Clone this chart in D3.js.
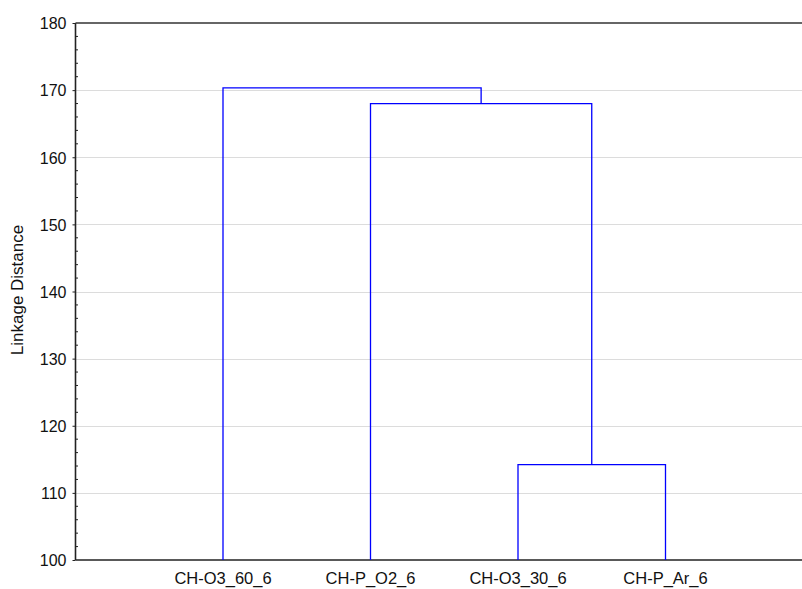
<!DOCTYPE html>
<html><head><meta charset="utf-8">
<script src="https://cdn.jsdelivr.net/npm/d3@7"></script>
<style>body{margin:0;background:#fff;overflow:hidden}svg{display:block}</style>
</head><body>
<script>
// Data
const leaves = ["CH-O3_60_6", "CH-P_O2_6", "CH-O3_30_6", "CH-P_Ar_6"];
// merges: indices refer to leaves (0..3) or previous merges (4..)
const mergeA = [2, 1, 0];
const mergeB = [3, 4, 5];
const mergeHeight = [114.2, 168.0, 170.35];
const yTicks = [100, 110, 120, 130, 140, 150, 160, 170, 180];
const yLabel = "Linkage Distance";

const W = 802, H = 589;
const svg = d3.select("body").append("svg").attr("width", W).attr("height", H);

const x = d3.scaleLinear().domain([0, leaves.length + 1]).range([75.5, 813]);
const y = d3.scaleLinear().domain([100, 180]).range([560, 23]);
const font = "Arial, 'Liberation Sans', sans-serif";

// gridlines
svg.append("g").selectAll("line").data(yTicks.filter(d => d > 100 && d < 180)).join("line")
  .attr("x1", x(0)).attr("x2", W).attr("y1", d => Math.round(y(d)) + 0.5).attr("y2", d => Math.round(y(d)) + 0.5)
  .attr("stroke", "#dcdcdc").attr("stroke-width", 1);

// left axis
const yAxis = d3.axisLeft(y).tickValues(yTicks).tickSize(3).tickPadding(6).tickFormat(d3.format("d"));
const gy = svg.append("g").attr("transform", `translate(${x(0)},0)`).call(yAxis);
gy.select(".domain").remove();
gy.selectAll(".tick line").attr("stroke", "#222");
gy.selectAll(".tick text").attr("font-family", font).attr("font-size", 16).attr("fill", "#111").attr("dy", "0.36em");
// minor ticks
const minor = d3.range(102, 180, 2).filter(d => d % 10 !== 0);
svg.append("g").selectAll("line").data(minor).join("line")
  .attr("x1", x(0)).attr("x2", x(0) + 2.5).attr("y1", d => y(d)).attr("y2", d => y(d))
  .attr("stroke", "#222").attr("stroke-width", 1);

// frame lines
svg.append("line").attr("x1", x(0)).attr("x2", x(0)).attr("y1", y(180)).attr("y2", y(100))
  .attr("stroke", "#222").attr("stroke-width", 1.6);
svg.append("line").attr("x1", x(0)).attr("x2", W).attr("y1", y(180)).attr("y2", y(180))
  .attr("stroke", "#333").attr("stroke-width", 1.6);
svg.append("line").attr("x1", x(0)).attr("x2", W).attr("y1", y(100)).attr("y2", y(100))
  .attr("stroke", "#222").attr("stroke-width", 1.6);

// x labels
svg.append("g").selectAll("text").data(leaves).join("text")
  .attr("x", (d, i) => x(i + 1)).attr("y", 584)
  .attr("text-anchor", "middle").attr("font-family", font).attr("font-size", 16.5).attr("fill", "#111")
  .text(d => d);

// y label
svg.append("text").attr("transform", `translate(23,290) rotate(-90)`)
  .attr("text-anchor", "middle").attr("font-family", font).attr("font-size", 17).attr("fill", "#111")
  .text(yLabel);

// dendrogram
const nodes = leaves.map((d, i) => ({ x: x(i + 1), h: 100 }));
const g = svg.append("g").attr("fill", "none").attr("stroke", "#0000ff").attr("stroke-width", 1.3);
mergeA.forEach((a, k) => {
  const A = nodes[a], B = nodes[mergeB[k]], h = mergeHeight[k];
  g.append("path").attr("d", `M${A.x},${y(A.h)}V${y(h)}H${B.x}V${y(B.h)}`);
  nodes.push({ x: (A.x + B.x) / 2, h });
});
</script>
</body></html>
